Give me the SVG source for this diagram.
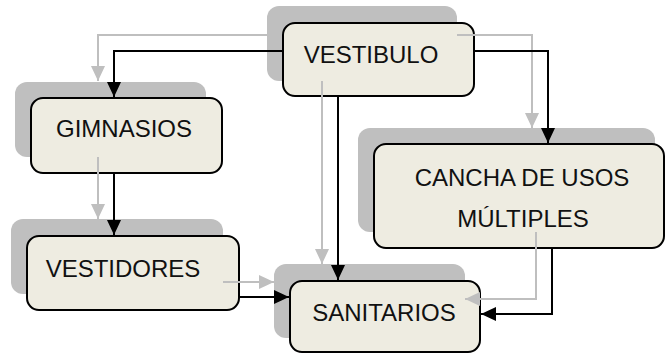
<svg xmlns="http://www.w3.org/2000/svg" width="666" height="354" viewBox="0 0 666 354">
  <style>
    .shadow { fill: #bfbfbf; }
    .box { fill: #eeece1; stroke: #000; stroke-width: 2; }
    .label { font-family: "Liberation Sans", Arial, sans-serif; font-size: 24px; fill: #111; text-anchor: middle; }
    .gray { fill: none; stroke: #bfbfbf; stroke-width: 2; marker-end: url(#ag); }
    .black { fill: none; stroke: #000; stroke-width: 2; marker-end: url(#ab); }
  </style>
  <defs>
    <marker id="ab" markerUnits="userSpaceOnUse" markerWidth="15" markerHeight="14" refX="15" refY="7" orient="auto">
      <path d="M0,0 L15,7 L0,14 Z" fill="#000"/>
    </marker>
    <marker id="ag" markerUnits="userSpaceOnUse" markerWidth="15" markerHeight="14" refX="15" refY="7" orient="auto">
      <path d="M0,0 L15,7 L0,14 Z" fill="#bfbfbf"/>
    </marker>
  </defs>
  <rect width="666" height="354" fill="#fff"/>
  <g id="shadows">
    <rect class="shadow" x="267" y="6" width="190" height="75" rx="12"/>
    <rect class="shadow" x="15" y="82" width="191" height="75" rx="12"/>
    <rect class="shadow" x="11" y="219" width="212" height="75" rx="12"/>
    <rect class="shadow" x="274" y="264" width="191" height="74" rx="12"/>
    <rect class="shadow" x="358" y="128" width="297" height="104" rx="12"/>
  </g>
  <g id="vestibulo">
    <rect class="box" x="283" y="23" width="191" height="73" rx="12"/>
    <text class="label" x="371" y="63">VESTIBULO</text>
  </g>
  <g id="gimnasios">
    <rect class="box" x="31" y="98" width="191" height="75" rx="12"/>
    <text class="label" x="124" y="137">GIMNASIOS</text>
  </g>
  <g id="vestidores">
    <rect class="box" x="27" y="236" width="212" height="74" rx="12"/>
    <text class="label" x="123" y="277">VESTIDORES</text>
  </g>
  <g id="sanitarios">
    <rect class="box" x="290" y="281" width="190" height="71" rx="12"/>
    <text class="label" x="384" y="321">SANITARIOS</text>
  </g>
  <g id="cancha">
    <rect class="box" x="374" y="144" width="290" height="104" rx="12"/>
    <text class="label" x="522" y="186">CANCHA DE USOS</text>
    <text class="label" x="523" y="227">MÚLTIPLES</text>
  </g>
  <g id="connectors">
    <path class="gray" d="M267,35 H98 V81"/>
    <path class="gray" d="M457,35 H532 V128"/>
    <path class="gray" d="M322,81 V264"/>
    <path class="gray" d="M98,157 V219"/>
    <path class="gray" d="M223,282 H274"/>
    <path class="gray" d="M536,232 V299 H465"/>
    <path class="black" d="M282,51 H114 V97"/>
    <path class="black" d="M475,51 H548 V143"/>
    <path class="black" d="M338,97 V280"/>
    <path class="black" d="M114,174 V235"/>
    <path class="black" d="M240,297 H289"/>
    <path class="black" d="M552,249 V314 H481"/>
  </g>
</svg>
